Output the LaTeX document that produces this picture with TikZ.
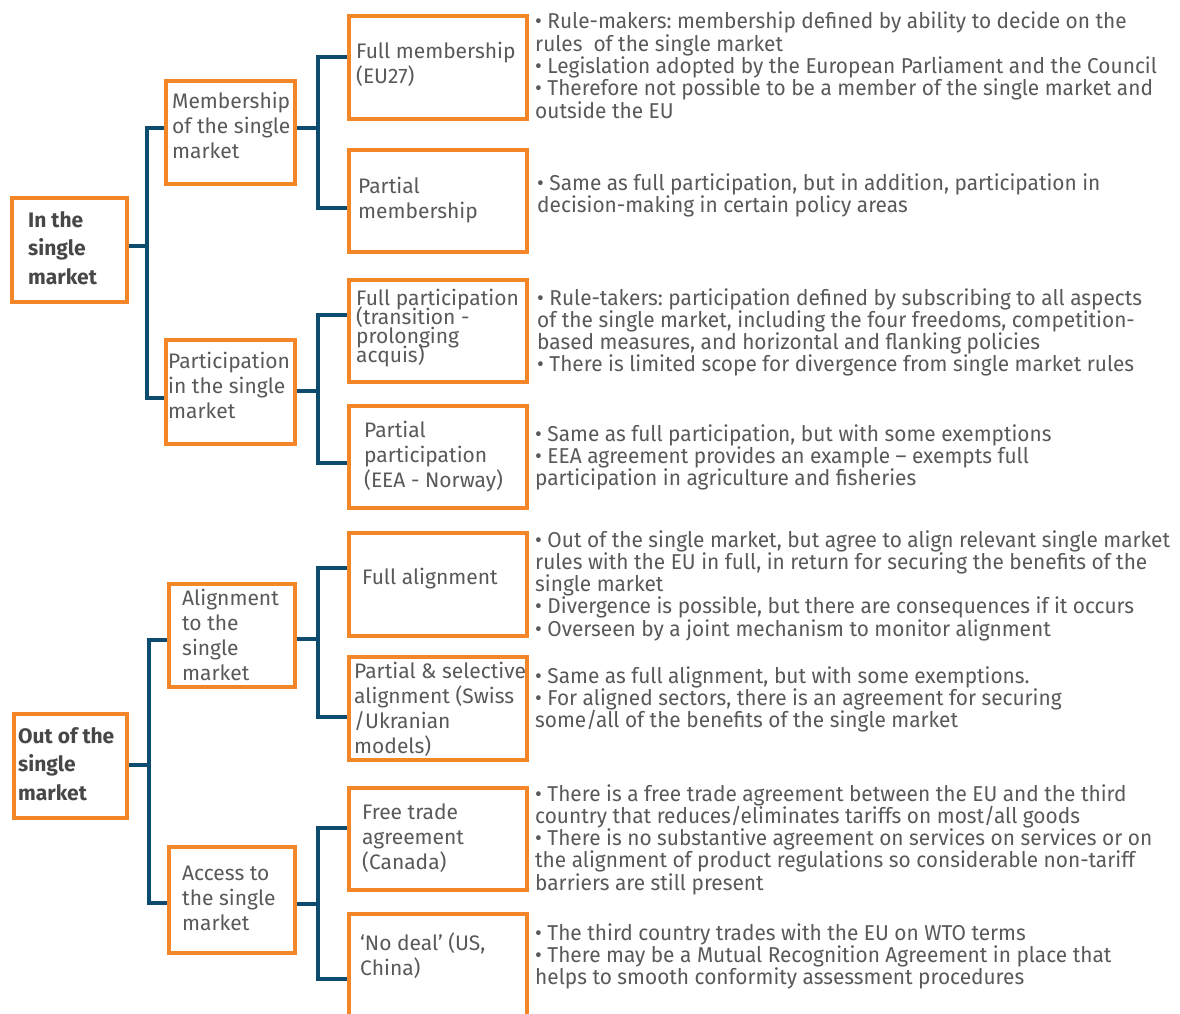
\documentclass[tikz,border=0pt]{standalone}
\usepackage{fontspec}
\setmainfont{Fira Sans}
\newfontfamily\rtf[FakeStretch=0.97]{Fira Sans}
\usetikzlibrary{fit}
\frenchspacing
\definecolor{orng}{HTML}{F4862A}
\definecolor{navy}{HTML}{0D4C6E}
\definecolor{txt}{HTML}{595959}
\definecolor{txtb}{HTML}{474747}
\newcommand\tl[1]{\vtop{\let\\\cr\lineskiplimit=-100pt\lineskip=0pt\halign{##\hfil\cr#1\crcr}}}
\newcommand\branch[8]{%
  \path ([yshift=#2]#1.east) coordinate (#1-o)
        ([yshift=#5]#4.west) coordinate (#4-i)
        ([yshift=#7]#6.west) coordinate (#6-i);
  \coordinate (#1-t) at (#3,#8);
  \draw[conn] (#4-i) -- (#4-i -| #1-t) -- (#6-i -| #1-t) -- (#6-i);
  \draw[conn] (#1-o) -- (#1-o -| #1-t);
}
\tikzset{
  box/.style={draw=orng, line width=4.5pt, inner sep=0pt, fill=none},
  conn/.style={draw=navy, line width=4pt},
  bt/.style={anchor=base west, inner sep=0pt, text=txt, font=\fontsize{21}{25}\selectfont},
  bb/.style={anchor=base west, inner sep=0pt, text=txtb, font=\fontsize{21}{28.5}\selectfont\bfseries},
  rt/.style={anchor=base west, inner sep=0pt, text=txt, font=\rtf\fontsize{21.5}{22.3}\selectfont},
}
\begin{document}
\begin{tikzpicture}[x=1pt,y=-1pt]
\useasboundingbox (0,0) rectangle (1180,1014);
\fill[white] (0,0) rectangle (1180,1014);
\clip (0,0) rectangle (1180,1014);
% level 0
\node[box, fit={(12,198) (127,302)}] (in) {};
\node[box, fit={(14,714) (127,818)}] (out) {};
% level 1
\node[box, fit={(166,81) (295,184)}] (mem) {};
\node[box, fit={(166,340) (295,444)}] (par) {};
\node[box, fit={(169,584) (295,687)}] (ali) {};
\node[box, fit={(169,847) (295,953)}] (acc) {};
% level 2
\node[box, fit={(349,16) (527,119)}] (fm) {};
\node[box, fit={(349,150) (527,252)}] (pm) {};
\node[box, fit={(349,280) (527,382)}] (fp) {};
\node[box, fit={(349,406) (527,508)}] (pp) {};
\node[box, fit={(349,533) (527,636)}] (fa) {};
\node[box, fit={(349,657) (527,760)}] (ps) {};
\node[box, fit={(349,788) (527,890)}] (ft) {};
\node[box, fit={(349,914) (527,1044)}] (nd) {};
% connectors
\branch{in}{4pt}{147}{mem}{4.5pt}{par}{-6pt}{0}
\branch{out}{1pt}{149}{ali}{-4.5pt}{acc}{-3pt}{0}
\branch{mem}{4.5pt}{318}{fm}{10.5pt}{pm}{-7pt}{0}
\branch{par}{1pt}{318}{fp}{16pt}{pp}{-6pt}{0}
\branch{ali}{-3.5pt}{318}{fa}{16.5pt}{ps}{-8.5pt}{0}
\branch{acc}{-4pt}{318}{ft}{11pt}{nd}{0pt}{0}
% box texts
\node[bb] (in-t) at (28,227) {\tl{In the\\single\\market}};
\node[bb] (out-t) at (18,743) {\tl{Out of the\\single\\market}};
\node[bt] (mem-t) at (172,109) {\tl{Membership\\of the single\\market}};
\node[bt] (par-t) at (168,368) {\tl{Participation\\in the single\\market}};
\node[bt] (ali-t) at (182,605) {\tl{Alignment\\to the\\single\\market}};
\node[bt] (acc-t) at (182,880) {\tl{Access to\\the single\\market}};
\node[bt] (fm-t) at (356,59) {\tl{Full membership\\(EU27)}};
\node[bt] (pm-t) at (358,193) {\tl{Partial\\membership}};
\node[bt, font=\fontsize{21}{19}\selectfont] (fp-t) at (356,305) {\tl{Full participation\\(transition -\\prolonging\\acquis)}};
\node[bt] (pp-t) at (364,437) {\tl{Partial\\participation\\(EEA - Norway)}};
\node[bt] (fa-t) at (362,584) {\tl{Full alignment}};
\node[bt] (ps-t) at (354,678) {\tl{Partial \& selective\\alignment (Swiss\\/Ukranian\\models)}};
\node[bt] (ft-t) at (362,819) {\tl{Free trade\\agreement\\(Canada)}};
\node[bt] (nd-t) at (360,950) {\tl{‘No deal’ (US,\\China)}};
% right texts
\node[rt] (fm-d) at (535,29) {\tl{• Rule-makers: membership defined by ability to decide on the\\rules~ of the single market\\• Legislation adopted by the European Parliament and the Council\\• Therefore not possible to be a member of the single market and\\outside the EU}};
\node[rt] (pm-d) at (537,190) {\tl{• Same as full participation, but in addition, participation in\\decision-making in certain policy areas}};
\node[rt] (fp-d) at (537,305) {\tl{• Rule-takers: participation defined by subscribing to all aspects\\of the single market, including the four freedoms, competition-\\based measures, and horizontal and flanking policies\\• There is limited scope for divergence from single market rules}};
\node[rt] (pp-d) at (535,441) {\tl{• Same as full participation, but with some exemptions\\• EEA agreement provides an example – exempts full\\participation in agriculture and fisheries}};
\node[rt] (fa-d) at (535,547) {\tl{• Out of the single market, but agree to align relevant single market\\rules with the EU in full, in return for securing the benefits of the\\single market\\• Divergence is possible, but there are consequences if it occurs\\• Overseen by a joint mechanism to monitor alignment}};
\node[rt] (ps-d) at (535,683) {\tl{• Same as full alignment, but with some exemptions.\\• For aligned sectors, there is an agreement for securing\\some/all of the benefits of the single market}};
\node[rt] (ft-d) at (535,801) {\tl{• There is a free trade agreement between the EU and the third\\country that reduces/eliminates tariffs on most/all goods\\• There is no substantive agreement on services on services or on\\the alignment of product regulations so considerable non-tariff\\barriers are still present}};
\node[rt] (nd-d) at (535,940) {\tl{• The third country trades with the EU on WTO terms\\• There may be a Mutual Recognition Agreement in place that\\helps to smooth conformity assessment procedures}};
\end{tikzpicture}
\end{document}
